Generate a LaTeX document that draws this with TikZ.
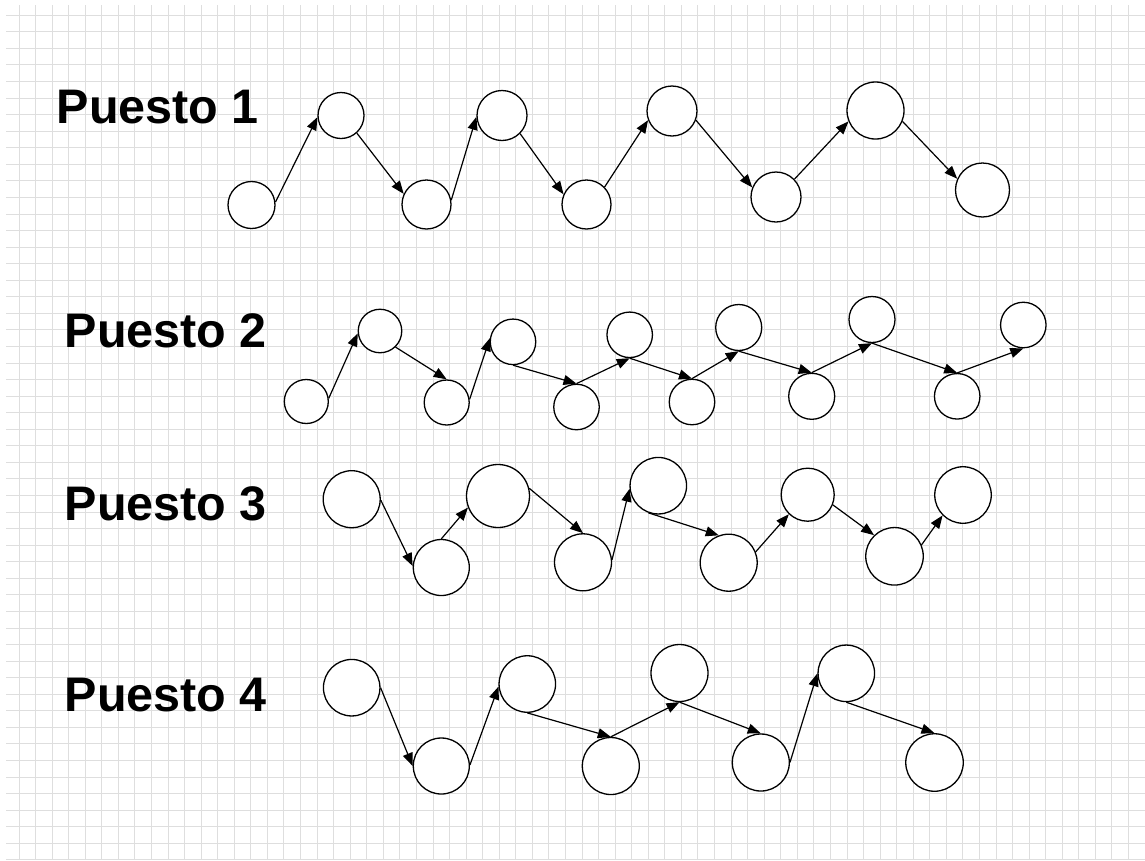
\documentclass[tikz,border=0pt]{standalone}
\usepackage{fontspec}
\setmainfont{Liberation Sans}
\usetikzlibrary{arrows.meta}
\definecolor{gridgray}{RGB}{222,222,222}
\tikzset{
  gridline/.style={draw=gridgray, line width=1pt},
  stage/.style={circle, draw=black, fill=white, line width=1.3pt, inner sep=0pt, minimum size=#1},
  link/.style={draw=black, line width=1.2pt, -{Triangle[length=13pt,width=10pt]}},
  rowlabel/.style={anchor=base west, inner sep=0pt, font=\fontsize{48.5}{56}\selectfont\bfseries}
}
\begin{document}
\begin{tikzpicture}[x=1pt, y=-1pt]
\useasboundingbox (0,0) rectangle (1145,860);
\fill[white] (0,0) rectangle (1145,860);

% background grid paper
\foreach \i in {0,...,68} {\draw[gridline] ({19+\i*16.56},5) -- ({19+\i*16.56},860);}
\foreach \j in {0,...,51} {\draw[gridline] (6,{15.3+\j*16.56}) -- (1145,{15.3+\j*16.56});}

% row labels
\node[rowlabel] (l1) at (56.5,123) {Puesto 1};
\node[rowlabel] (l2) at (64.5,347) {Puesto 2};
\node[rowlabel] (l3) at (64.5,520) {Puesto 3};
\node[rowlabel] (l4) at (64.5,711) {Puesto 4};

% Puesto 1
\node[stage=47pt] (a1) at (251.5,205) {};
\node[stage=46pt] (a2) at (341,115.5) {};
\node[stage=49pt] (a3) at (426.5,204.5) {};
\node[stage=50pt] (a4) at (502,115.5) {};
\node[stage=49pt] (a5) at (586.5,204.5) {};
\node[stage=50pt] (a6) at (672,111) {};
\node[stage=50pt] (a7) at (776,197) {};
\node[stage=57pt] (a8) at (875.5,110.5) {};
\node[stage=54pt] (a9) at (982.5,190) {};

\draw[link] (a1.7) -- (a2.184);
\draw[link] (a2.-48) -- (a3.155);
\draw[link] (a3.10) -- (a4.183);
\draw[link] (a4.-45) -- (a5.156);
\draw[link] (a5.44) -- (a6.201);
\draw[link] (a6.-21) -- (a7.158);
\draw[link] (a7.44) -- (a8.202);
\draw[link] (a8.-22) -- (a9.156);

% Puesto 2
\node[stage=44pt] (b1) at (306.3,401.5) {};
\node[stage=43.5pt] (b2) at (380,331) {};
\node[stage=45pt] (b3) at (446.7,402.5) {};
\node[stage=45.5pt] (b4) at (513,341.8) {};
\node[stage=45.5pt] (b5) at (576.5,407) {};
\node[stage=45.5pt] (b6) at (629.7,334.8) {};
\node[stage=45.5pt] (b7) at (692,402) {};
\node[stage=46pt] (b8) at (738.7,327.5) {};
\node[stage=46pt] (b9) at (811.7,396.3) {};
\node[stage=46pt] (b10) at (872,319.5) {};
\node[stage=45.5pt] (b11) at (957.2,396.3) {};
\node[stage=45.5pt] (b12) at (1023.3,325) {};

\draw[link] (b1.8) -- (b2.186);
\draw[link] (b2.-46) -- (b3.90);
\draw[link] (b3.8) -- (b4.171);
\draw[link] (b4.-90) -- (b5.90);
\draw[link] (b5.90) -- (b6.-90);
\draw[link] (b6.-90) -- (b7.90);
\draw[link] (b7.90) -- (b8.-90);
\draw[link] (b8.-90) -- (b9.90);
\draw[link] (b9.90) -- (b10.-90);
\draw[link] (b10.-90) -- (b11.90);
\draw[link] (b11.90) -- (b12.-90);

% Puesto 3
\node[stage=57pt] (c1) at (351.7,499.2) {};
\node[stage=56pt] (c2) at (441.3,567.5) {};
\node[stage=63pt] (c3) at (498,496) {};
\node[stage=57pt] (c4) at (583,562.3) {};
\node[stage=56.5pt] (c5) at (658.3,485.7) {};
\node[stage=57pt] (c6) at (728.7,562.7) {};
\node[stage=53pt] (c7) at (807.7,494.7) {};
\node[stage=57.5pt] (c8) at (894.5,556.3) {};
\node[stage=56.5pt] (c9) at (963,495) {};

\draw[link] (c1.-2) -- (c2.177);
\draw[link] (c2.90) -- (c3.201);
\draw[link] (c3.14) -- (c4.90);
\draw[link] (c4.5) -- (c5.186);
\draw[link] (c5.-110) -- (c6.110);
\draw[link] (c6.22) -- (c7.226);
\draw[link] (c7.-22) -- (c8.134);
\draw[link] (c8.23) -- (c9.225);

% Puesto 4
\node[stage=56.5pt] (d1) at (351.7,687.7) {};
\node[stage=56pt] (d2) at (441.3,766) {};
\node[stage=56.5pt] (d3) at (527.3,684) {};
\node[stage=57pt] (d4) at (610.8,766) {};
\node[stage=57pt] (d5) at (679.5,673) {};
\node[stage=57pt] (d6) at (760.8,762.5) {};
\node[stage=56.5pt] (d7) at (846.3,673.3) {};
\node[stage=57.5pt] (d8) at (934.5,762.5) {};

\draw[link] (d1.0) -- (d2.180);
\draw[link] (d2.2) -- (d3.185);
\draw[link] (d3.-90) -- (d4.90);
\draw[link] (d4.90) -- (d5.-90);
\draw[link] (d5.-90) -- (d6.90);
\draw[link] (d6.0) -- (d7.180);
\draw[link] (d7.-90) -- (d8.90);
\end{tikzpicture}
\end{document}
